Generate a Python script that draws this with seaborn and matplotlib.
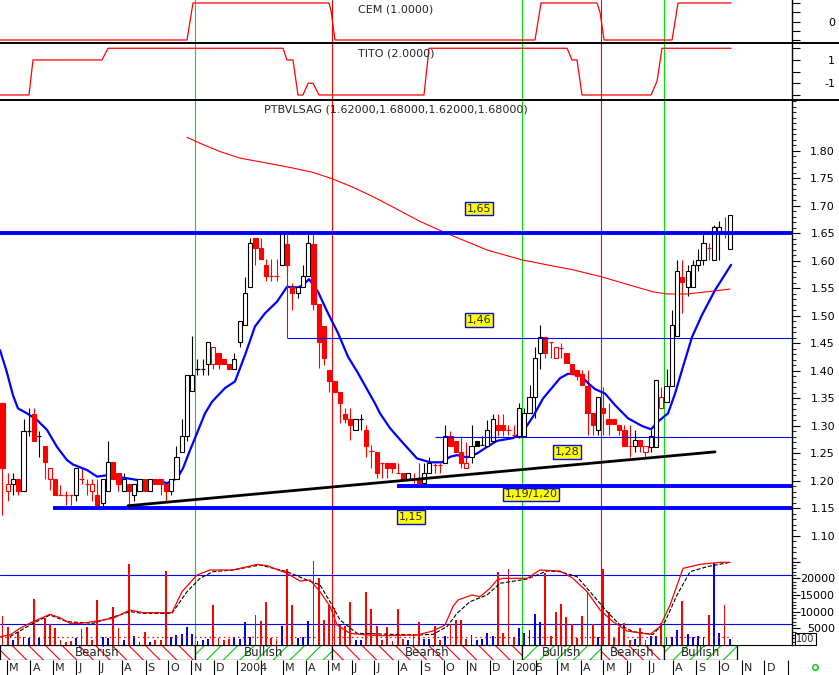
import matplotlib
matplotlib.use('Agg')
import matplotlib.pyplot as plt
from matplotlib.patches import Rectangle
from matplotlib.lines import Line2D
import seaborn as sns
import pandas as pd
import numpy as np

W, H = 839, 675
START = pd.Timestamp('2003-02-23')  # first weekly bar

# weekly bars
opens = [1.341, 1.182, 1.194, 1.203, 1.182, 1.291, 1.322, 1.282, 1.264, 1.203,
         1.203, 1.174, 1.174, 1.174, 1.174, 1.204, 1.194, 1.182, 1.174, 1.160,
         1.182, 1.234, 1.214, 1.182, 1.194, 1.174, 1.182, 1.204, 1.182, 1.204,
         1.204, 1.194, 1.182, 1.204, 1.253, 1.282, 1.364, 1.403, 1.403, 1.412,
         1.412, 1.432, 1.422, 1.412, 1.403, 1.452, 1.484, 1.552, 1.641, 1.623,
         1.592, 1.572, 1.572, 1.592, 1.631, 1.552, 1.541, 1.552, 1.572, 1.631,
         1.522, 1.482, 1.402, 1.382, 1.362, 1.322, 1.312, 1.293, 1.312, 1.292,
         1.254, 1.253, 1.233, 1.233, 1.233, 1.214, 1.214, 1.204, 1.204, 1.204,
         1.196, 1.214, 1.229, 1.229, 1.233, 1.282, 1.273, 1.253, 1.224, 1.243,
         1.273, 1.265, 1.264, 1.273, 1.302, 1.302, 1.293, 1.283, 1.282, 1.282,
         1.323, 1.352, 1.433, 1.462, 1.453, 1.423, 1.441, 1.432, 1.413, 1.402,
         1.395, 1.373, 1.323, 1.293, 1.332, 1.312, 1.312, 1.302, 1.293, 1.264,
         1.264, 1.274, 1.253, 1.262, 1.262, 1.332, 1.343, 1.373, 1.464, 1.571,
         1.553, 1.553, 1.593, 1.602, 1.623, 1.602, 1.652, 1.652, 1.621]
highs = [1.341, 1.214, 1.214, 1.203, 1.312, 1.332, 1.332, 1.291, 1.264, 1.223,
         1.203, 1.193, 1.182, 1.174, 1.223, 1.223, 1.204, 1.204, 1.204, 1.204,
         1.273, 1.234, 1.214, 1.214, 1.194, 1.194, 1.204, 1.204, 1.204, 1.204,
         1.204, 1.194, 1.204, 1.264, 1.312, 1.393, 1.464, 1.422, 1.422, 1.452,
         1.443, 1.432, 1.422, 1.412, 1.432, 1.491, 1.571, 1.641, 1.641, 1.641,
         1.603, 1.603, 1.603, 1.655, 1.641, 1.560, 1.552, 1.592, 1.652, 1.652,
         1.522, 1.482, 1.402, 1.382, 1.362, 1.333, 1.333, 1.312, 1.322, 1.302,
         1.265, 1.253, 1.233, 1.233, 1.233, 1.233, 1.214, 1.214, 1.214, 1.233,
         1.233, 1.243, 1.233, 1.233, 1.302, 1.290, 1.273, 1.282, 1.270, 1.302,
         1.273, 1.282, 1.311, 1.322, 1.322, 1.322, 1.302, 1.302, 1.341, 1.333,
         1.375, 1.443, 1.484, 1.462, 1.453, 1.444, 1.451, 1.432, 1.413, 1.402,
         1.402, 1.402, 1.323, 1.352, 1.371, 1.341, 1.312, 1.302, 1.302, 1.302,
         1.293, 1.274, 1.264, 1.293, 1.384, 1.371, 1.403, 1.511, 1.602, 1.602,
         1.593, 1.602, 1.621, 1.650, 1.632, 1.665, 1.672, 1.680, 1.684]
lows = [1.139, 1.164, 1.174, 1.174, 1.182, 1.282, 1.273, 1.244, 1.204, 1.184,
        1.174, 1.174, 1.156, 1.156, 1.164, 1.194, 1.174, 1.164, 1.156, 1.152,
        1.182, 1.204, 1.182, 1.182, 1.156, 1.164, 1.182, 1.182, 1.182, 1.194,
        1.174, 1.164, 1.174, 1.204, 1.253, 1.273, 1.364, 1.393, 1.393, 1.393,
        1.403, 1.403, 1.412, 1.403, 1.403, 1.443, 1.484, 1.552, 1.593, 1.603,
        1.563, 1.563, 1.563, 1.592, 1.580, 1.511, 1.532, 1.552, 1.572, 1.511,
        1.405, 1.410, 1.362, 1.362, 1.305, 1.305, 1.275, 1.293, 1.293, 1.244,
        1.224, 1.205, 1.205, 1.205, 1.214, 1.214, 1.204, 1.204, 1.196, 1.196,
        1.196, 1.214, 1.214, 1.214, 1.233, 1.264, 1.253, 1.224, 1.224, 1.233,
        1.264, 1.265, 1.264, 1.273, 1.282, 1.282, 1.283, 1.283, 1.278, 1.282,
        1.323, 1.314, 1.403, 1.423, 1.423, 1.423, 1.423, 1.414, 1.395, 1.384,
        1.375, 1.284, 1.284, 1.284, 1.284, 1.284, 1.303, 1.284, 1.264, 1.244,
        1.253, 1.253, 1.244, 1.253, 1.262, 1.332, 1.343, 1.373, 1.464, 1.505,
        1.536, 1.553, 1.582, 1.593, 1.602, 1.602, 1.602, 1.641, 1.621]
closes = [1.224, 1.194, 1.203, 1.182, 1.291, 1.291, 1.273, 1.282, 1.234, 1.223,
          1.174, 1.174, 1.174, 1.174, 1.223, 1.204, 1.194, 1.194, 1.156, 1.204,
          1.234, 1.204, 1.194, 1.204, 1.182, 1.194, 1.204, 1.182, 1.204, 1.194,
          1.194, 1.182, 1.204, 1.243, 1.282, 1.393, 1.393, 1.403, 1.403, 1.452,
          1.443, 1.412, 1.412, 1.403, 1.422, 1.491, 1.541, 1.632, 1.623, 1.603,
          1.572, 1.572, 1.572, 1.652, 1.592, 1.541, 1.552, 1.572, 1.632, 1.522,
          1.453, 1.423, 1.382, 1.362, 1.342, 1.312, 1.302, 1.312, 1.312, 1.264,
          1.254, 1.214, 1.233, 1.224, 1.224, 1.214, 1.204, 1.214, 1.204, 1.196,
          1.214, 1.233, 1.229, 1.229, 1.282, 1.264, 1.253, 1.233, 1.233, 1.264,
          1.264, 1.265, 1.293, 1.312, 1.293, 1.293, 1.293, 1.283, 1.333, 1.323,
          1.352, 1.423, 1.462, 1.433, 1.453, 1.443, 1.441, 1.414, 1.395, 1.391,
          1.375, 1.323, 1.302, 1.352, 1.323, 1.303, 1.303, 1.293, 1.264, 1.264,
          1.275, 1.264, 1.264, 1.281, 1.384, 1.352, 1.373, 1.484, 1.582, 1.562,
          1.582, 1.593, 1.602, 1.632, 1.623, 1.662, 1.662, 1.652, 1.684]
# r = red bar (down week), k = black bar
bar_colors = ''.join(['rrkrkkrkrr', 'rrrrkrrrrk', 'krrkrkkrkr', 'rrkkkkkkkk',
                      'rrrrkkkkrr', 'rrrkrrkkkr', 'rrrrrrrkkr', 'rrrrrrrkrr',
                      'kkrrkrrrrk', 'kkkkrrrrkk', 'kkkrrrrrrr', 'rrrkrrrrrr',
                      'krrkkrkkkr', 'kkkkrkkrk'])
volumes = [8700, 5500, 1400, 4000, 2400, 2200, 13800, 2200, 8200, 6300,
           5000, 1600, 800, 1300, 2000, 4800, 5300, 1500, 13500, 2500,
           2200, 11300, 5000, 1600, 24300, 2700, 800, 3800, 800, 1600,
           1500, 22200, 2500, 3000, 3200, 5300, 3200, 1300, 1500, 1700,
           12000, 2100, 1600, 1700, 2500, 1900, 7000, 2300, 9000, 7200,
           13000, 2100, 1900, 5800, 22800, 12000, 2100, 2500, 7200, 25200,
           20000, 7500, 12000, 11200, 6000, 5800, 12800, 1600, 1600, 15800,
           10700, 5700, 1600, 5300, 1300, 10800, 1900, 1500, 3200, 7000,
           1700, 1900, 5800, 1400, 2600, 6300, 7400, 7400, 1900, 3000,
           1600, 1700, 3600, 2600, 21800, 3500, 22800, 2500, 5000, 3700,
           4500, 9200, 7000, 21500, 2700, 10000, 12200, 8500, 6200, 2200,
           8700, 15800, 6200, 2400, 22800, 9800, 2100, 5500, 6700, 1600,
           1900, 5000, 1500, 2600, 2800, 6500, 2500, 2500, 4600, 13200,
           3200, 2400, 2700, 2500, 9000, 24500, 3600, 12000, 1900]

# blue smoothed average and red long average (week index, price)
ma_week = [-0.47, 0.80, 1.99, 2.94, 4.65, 6.55, 8.44, 10.34, 12.24, 13.38, 16.03, 17.93,
           20.40, 22.87, 25.52, 27.99, 30.46, 31.21, 33.11, 34.25, 35.58, 36.53, 38.43,
           39.75, 42.22, 44.12, 46.02, 47.91, 49.81, 52.09, 53.98, 56.07, 57.02, 58.16,
           59.87, 61.76, 63.66, 65.56, 67.46, 70.68, 71.63, 73.53, 76.00, 78.65, 81.12,
           83.40, 84.91, 86.24, 88.14, 90.04, 91.94, 93.83, 96.87, 98.77, 100.66, 102.56,
           105.79, 107.31, 109.58, 111.10, 112.43, 114.33, 116.22, 118.69, 121.35,
           123.06, 124.38, 126.28, 127.61, 128.94, 130.84, 132.73, 135.20, 138.24]
ma_val = [1.438, 1.399, 1.356, 1.332, 1.323, 1.311, 1.293, 1.262, 1.238, 1.230, 1.220,
          1.208, 1.211, 1.206, 1.202, 1.200, 1.198, 1.196, 1.205, 1.223, 1.256, 1.278,
          1.323, 1.344, 1.369, 1.381, 1.429, 1.481, 1.505, 1.526, 1.553, 1.552, 1.556,
          1.567, 1.544, 1.505, 1.469, 1.426, 1.396, 1.341, 1.323, 1.296, 1.269, 1.241,
          1.234, 1.234, 1.244, 1.247, 1.243, 1.250, 1.262, 1.273, 1.278, 1.290, 1.317,
          1.350, 1.387, 1.395, 1.393, 1.378, 1.367, 1.359, 1.338, 1.314, 1.300, 1.294,
          1.308, 1.323, 1.359, 1.402, 1.462, 1.502, 1.547, 1.593]
ma200_week = [35.01, 37.48, 41.27, 45.07, 50.19, 55.12, 58.92, 62.72, 66.51, 70.30, 74.10,
              79.22, 84.35, 91.94, 98.58, 103.32, 108.25, 113.76, 119.07, 123.43, 126.09,
              129.89, 133.68, 138.05]
ma200_val = [1.825, 1.814, 1.799, 1.787, 1.778, 1.769, 1.761, 1.749, 1.734, 1.717, 1.698,
             1.672, 1.650, 1.620, 1.602, 1.593, 1.584, 1.571, 1.556, 1.544, 1.540, 1.540,
             1.544, 1.549]

# support / resistance levels
levels = [1.65, 1.19, 1.15]
level_start = [-0.47, 74.86, 9.58]
thin_levels = [1.46, 1.28]
thin_start = [53.98, 82.07]
trend_week = [23.81, 135.20]
trend_val = [1.155, 1.253]
level_labels = ['1,65', '1,46', '1,28', '1,19/1,20', '1,15']
label_week = [90.4, 90.4, 107.1, 100.3, 77.5]
label_val = [1.695, 1.493, 1.253, 1.1755, 1.1345]

# signal panels (week index, value)
cem_week = [-0.47, 35.01, 36.15, 61.95, 62.33, 63.09, 101.04, 102.18, 112.81, 113.38,
            114.14, 127.04, 128.18, 138.24]
cem_val = [-1, -1, 1, 1, 0.6, -1, -1, 1, 1, 0.5, -1, -1, 1, 1]
tito_week = [-0.47, 5.03, 5.79, 18.88, 20.02, 53.23, 53.98, 55.12, 56.07, 57.02, 57.97,
             58.92, 60.06, 79.98, 80.93, 107.12, 108.06, 109.01, 109.96, 123.06, 124.20,
             125.14, 138.24]
tito_val = [-2, -2, 1, 1, 2, 2, 1, 1, -2, -2, -1, -1, -2, -2, 2, 2, 1, 1, -2, -2, -0.8, 2, 2]

# volume indicator and its signal line
ind_week = [-0.47, 1.42, 3.32, 5.79, 9.01, 10.91, 12.81, 14.71, 17.17, 20.97, 24.20, 26.66,
            32.16, 34.06, 36.91, 39.37, 43.74, 48.29, 50.19, 53.98, 56.45, 58.35, 60.25,
            62.15, 63.47, 65.94, 69.17, 72.20, 78.65, 81.69, 83.97, 85.48, 86.43, 89.09,
            90.61, 92.50, 93.83, 94.97, 99.53, 101.99, 105.79, 108.25, 110.91, 113.38,
            115.84, 118.50, 122.87, 124.76, 126.66, 129.13, 132.35, 136.15, 138.05]
ind_val = [2500, 3000, 5000, 7000, 9200, 8200, 6500, 6500, 7000, 8000, 10500, 9700, 9700,
           16000, 21000, 22500, 22500, 24200, 23800, 21500, 19200, 19500, 16000, 11600,
           6000, 3500, 3000, 2800, 3000, 4200, 6000, 11600, 13500, 15000, 14500, 17000,
           19500, 20000, 20000, 22500, 22200, 20000, 16000, 10500, 7000, 4200, 3200, 5500,
           12000, 23000, 24200, 24800, 24800]
sig_week = [1.42, 5.79, 9.01, 12.24, 17.17, 24.20, 26.66, 32.16, 35.01, 37.48, 39.94, 43.74,
            48.86, 53.98, 57.78, 60.25, 62.15, 64.04, 67.27, 78.65, 81.69, 84.35, 86.24,
            88.71, 91.94, 94.40, 99.53, 103.32, 105.79, 109.01, 111.48, 114.71, 117.17,
            119.64, 123.43, 125.71, 127.99, 130.46, 133.68, 138.05]
sig_val = [2500, 6500, 9000, 7000, 6500, 10000, 9500, 9500, 16000, 20000, 22000, 22500,
           24000, 22000, 19500, 18000, 13000, 7500, 3500, 3000, 3200, 5500, 9500, 13000,
           15000, 18500, 19800, 22200, 22000, 20500, 16000, 10000, 6000, 4000, 3200, 7000,
           15000, 22000, 23500, 24800]

# trend regime markers
signal_week = [36.5, 62.5, 98.6, 113.6, 125.5]
signal_color = ['#00e000', '#ff0000', '#00e000', '#ff0000', '#00e000']
regime_edges = [-0.47, 36.5, 62.5, 98.6, 113.6, 125.5, 139.4]
regime_names = ['Bearish', 'Bullish', 'Bearish', 'Bullish', 'Bearish', 'Bullish']

RED = '#ff0000'
BLUE = '#0000ff'
XMAX = 149.8


def px_rect(x0, y0, x1, y1):
    return [x0 / W, 1 - y1 / H, (x1 - x0) / W, (y1 - y0) / H]


def style_right(ax):
    for s in ['left', 'top', 'bottom']:
        ax.spines[s].set_visible(False)
    ax.spines['right'].set_color('black')
    ax.spines['right'].set_linewidth(1.0)
    ax.yaxis.tick_right()
    ax.tick_params(axis='y', which='major', direction='out', length=6, width=0.8,
                   pad=25, labelsize=8, colors='black')
    ax.tick_params(axis='y', which='minor', direction='out', length=3, width=0.8)
    ax.tick_params(axis='x', which='both', bottom=False, labelbottom=False)


sns.set_style('white')
plt.rcParams['font.family'] = ['DejaVu Sans']
plt.rcParams['hatch.linewidth'] = 0.8

fig = plt.figure(figsize=(W / 100, H / 100), dpi=100)
ax_cem = fig.add_axes(px_rect(0, 0, 792, 43))
ax_tito = fig.add_axes(px_rect(0, 43, 792, 100), sharex=ax_cem)
ax_main = fig.add_axes(px_rect(0, 100, 792, 558), sharex=ax_cem)
ax_vol = fig.add_axes(px_rect(0, 558, 792, 645), sharex=ax_cem)
ax_band = fig.add_axes(px_rect(0, 645, 792, 660), sharex=ax_cem)
ax_mon = fig.add_axes(px_rect(0, 660, 792, 675), sharex=ax_cem)
ax_cem.set_xlim(-0.47, XMAX)

for ax in [ax_cem, ax_tito, ax_main, ax_vol]:
    style_right(ax)
    ax.set_facecolor('white')
    for wk, col in zip(signal_week, signal_color):
        ax.axvline(wk, color=col, lw=0.8, zorder=1)

# CEM panel
sns.lineplot(x=cem_week, y=cem_val, ax=ax_cem, color=RED, lw=0.9, sort=False, estimator=None)
ax_cem.set_ylim(-1.162, 1.162)
ax_cem.set_yticks([-1, -0.5, 0, 0.5, 1])
ax_cem.set_yticklabels(['', '', '0', '', ''], ha='right')

# TITO panel
sns.lineplot(x=tito_week, y=tito_val, ax=ax_tito, color=RED, lw=0.9, sort=False, estimator=None)
ax_tito.set_ylim(-2.43, 2.45)
ax_tito.set_yticks([-2, -1, 0, 1, 2])
ax_tito.set_yticklabels(['', '-1', '', '1', ''], ha='right')

# price panel
n = len(closes)
body_w = 0.8
for i in range(n):
    o, h, l, c = opens[i], highs[i], lows[i], closes[i]
    col = RED if bar_colors[i] == 'r' else 'black'
    ax_main.vlines(i, l, h, color=col, lw=0.8, zorder=2)
    if abs(c - o) < 1e-9:
        ax_main.hlines(c, i - body_w / 2, i + body_w / 2, color=col, lw=0.9, zorder=3)
    else:
        fill = col if c < o else 'white'
        ax_main.add_patch(Rectangle((i - body_w / 2, min(o, c)), body_w, abs(c - o),
                                    facecolor=fill, edgecolor=col, lw=0.8, zorder=3))

sns.lineplot(x=ma200_week, y=ma200_val, ax=ax_main, color=RED, lw=0.8, sort=False, estimator=None)
sns.lineplot(x=ma_week, y=ma_val, ax=ax_main, color=BLUE, lw=1.6, sort=False, estimator=None)
for lv, st in zip(levels, level_start):
    ax_main.hlines(lv, st, XMAX, color=BLUE, lw=2.8, zorder=4)
for lv, st in zip(thin_levels, thin_start):
    ax_main.hlines(lv, st, XMAX, color=BLUE, lw=0.8, zorder=4)
ax_main.vlines(thin_start[0], thin_levels[0], levels[0], color=RED, lw=0.8, zorder=4)
ax_main.plot(trend_week, trend_val, color='black', lw=2.0, zorder=4)
for txt, wk, val in zip(level_labels, label_week, label_val):
    ax_main.text(wk, val, txt, ha='center', va='center', fontsize=8, zorder=6,
                 bbox=dict(boxstyle='square,pad=0.15', facecolor='#ffff00', edgecolor=BLUE, lw=1.0))
price_ticks = np.arange(1.10, 1.801, 0.05)
ax_main.set_ylim(1.06, 1.8927)
ax_main.set_yticks(price_ticks)
ax_main.set_yticklabels([f'{v:.2f}' for v in price_ticks], ha='right')
ax_main.set_yticks(np.arange(1.06, 1.895, 0.01), minor=True)

# volume panel
weeks = np.arange(n)
vol_colors = [RED if c == 'r' else BLUE for c in bar_colors]
ax_vol.bar(weeks, volumes, width=0.35, color=vol_colors, lw=0, zorder=2)
ax_vol.axhline(21000, color=BLUE, lw=0.8, zorder=1)
ax_vol.axhline(6200, color=BLUE, lw=0.8, zorder=1)
ax_vol.hlines(2400, -0.47, n - 0.5, color=RED, lw=0.9, linestyles=(0, (1.2, 2.6)), zorder=2)
sns.lineplot(x=sig_week, y=sig_val, ax=ax_vol, color='black', lw=0.8, sort=False,
             estimator=None, linestyle='--', zorder=3)
sns.lineplot(x=ind_week, y=ind_val, ax=ax_vol, color=RED, lw=0.9, sort=False,
             estimator=None, zorder=4)
ax_vol.set_ylim(0, 26100)
ax_vol.set_yticks([5000, 10000, 15000, 20000, 25000])
ax_vol.set_yticklabels(['5000', '10000', '15000', '20000', ''], ha='right')
ax_vol.set_yticks(np.arange(0, 26001, 1000), minor=True)
ax_vol.spines['bottom'].set_visible(True)
ax_vol.spines['bottom'].set_color('black')

# regime band
ax_band.set_ylim(0, 1)
ax_band.axis('off')
for k, name in enumerate(regime_names):
    x0, x1 = regime_edges[k], regime_edges[k + 1]
    bull = name == 'Bullish'
    ax_band.add_patch(Rectangle((x0, 0), x1 - x0, 1, facecolor='white',
                                edgecolor='#00d000' if bull else RED,
                                hatch='//' if bull else '\\\\', lw=0))
    ax_band.add_patch(Rectangle((x0, 0), x1 - x0, 1, facecolor='none', edgecolor='black', lw=0.9))
    ax_band.text((x0 + x1) / 2, 0.5, name, ha='center', va='center', fontsize=8.5)

# month axis
ax_mon.set_ylim(0, 1)
ax_mon.axis('off')
initials = 'JFMAMJJASOND'
for m in pd.date_range('2003-03-01', '2006-01-01', freq='MS'):
    wk = (m - START).days / 7
    ax_mon.vlines(wk, 0, 1, color='black', lw=0.8)
    if m.month == 1:
        lab = str(m.year)
    elif m.month == 2:
        lab = ''
    else:
        lab = initials[m.month - 1]
    ax_mon.text(wk + 0.4, 0.45, lab, ha='left', va='center', fontsize=8, clip_on=True)

# titles and separators
fig.text(396 / W, 1 - 10 / H, 'CEM (1.0000)', ha='center', va='center', fontsize=8)
fig.text(396 / W, 1 - 53 / H, 'TITO (2.0000)', ha='center', va='center', fontsize=8)
fig.text(396 / W, 1 - 110 / H, 'PTBVLSAG (1.62000,1.68000,1.62000,1.68000)',
         ha='center', va='center', fontsize=8)
for yy in [43, 100]:
    fig.add_artist(Line2D([0, 1], [1 - yy / H] * 2, color='black', lw=1.4,
                          transform=fig.transFigure))
fig.text(796 / W, 1 - 639 / H, '100', ha='left', va='center', fontsize=7,
         bbox=dict(facecolor='white', edgecolor='black', pad=1.0, lw=0.8))
fig.add_artist(Line2D([815 / W], [1 - 667 / H], marker='o', markersize=4, mfc='none',
                      mec='#00c000', mew=1.0, transform=fig.transFigure))

fig.savefig('out.png', dpi=100)
